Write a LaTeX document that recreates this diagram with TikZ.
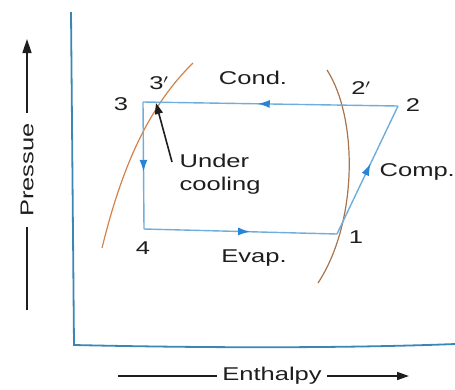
\documentclass[tikz,border=0pt]{standalone}
\usepackage{fontspec}
\setmainfont{Liberation Sans}
\usetikzlibrary{arrows.meta,decorations.markings,positioning}
\definecolor{axisBlue}{HTML}{3A86B4}
\definecolor{lineBlue}{HTML}{6EAEDC}
\definecolor{tipBlue}{HTML}{2A84D4}
\definecolor{curveOrange}{HTML}{D4824A}
\definecolor{curveBrown}{HTML}{A8744C}
\definecolor{textGray}{HTML}{1E1E1E}

\tikzset{
  lbl/.style={font=\fontsize{18.5}{23}\selectfont, text=textGray, inner sep=1pt},
  wide/.style={xscale=1.38},
  cycleline/.style={draw=lineBlue, line width=1.4pt, postaction={decorate},
    decoration={markings, mark=at position 0.55 with {\arrow[color=tipBlue]{Latex[length=12pt,width=8pt]}}}},
  satcurve/.style={line width=1.2pt},
  pointer/.style={line width=1.6pt, textGray, -{Triangle[length=11pt,width=8pt]}}
}

\begin{document}
\begin{tikzpicture}[x=1pt, y=-1pt]
    \useasboundingbox (0,0) rectangle (455,389);

    % axes
    \draw[axisBlue, line width=1.8pt] (71,12) -- (74,345) .. controls (250,349) and (380,347) .. (455,344);

    % cycle points
    \coordinate (p1) at (337,234);
    \coordinate (p2) at (398,106);
    \coordinate (p3) at (143,102);
    \coordinate (p4) at (144,229);
    \coordinate (p3s) at (156,103);

    % saturation curves
    \draw[satcurve, curveOrange] (102,248) .. controls (120,175) and (145,110) .. (193,63);
    \draw[satcurve, curveBrown] (327,70) .. controls (358,118) and (358,222) .. (318,283);

    % refrigeration cycle
    \draw[cycleline] (p1) -- (p2);
    \draw[cycleline] (p2) -- (p3);
    \draw[cycleline] (p3) -- (p4);
    \draw[cycleline] (p4) -- (p1);

    % point labels
    \node[lbl, wide] (n3) at (121,104) {3};
    \node[lbl, wide] (n3s) at (159,83) {3$'$};
    \node[lbl, wide] (n2s) at (361,88) {2$'$};
    \node[lbl, wide] (n2) at (413,105) {2};
    \node[lbl, wide] (n1) at (356,237) {1};
    \node[lbl, wide] (n4) at (143,248) {4};

    % process labels
    \node[lbl, wide] (cond) at (253,78) {Cond.};
    \node[lbl, wide] (evap) at (254,258) {Evap.};
    \node[lbl, wide, anchor=west] (comp) at (378,172) {Comp.};
    \node[lbl, wide, anchor=west, align=left] (under) at (178,174) {Under\\cooling};

    \coordinate (ptail) at (172,162);
    \draw[pointer] (ptail) -- (p3s);

    % axis titles
    \node[lbl, rotate=90, xscale=1.38, inner sep=7pt] (pres) at (27,170) {Pressue};
    \coordinate (presLow) at (27,310);
    \coordinate (presTop) at (27,39);
    \draw[line width=1.6pt, textGray] (presLow) -- (pres.west);
    \draw[line width=1.6pt, textGray, -{Triangle[length=14pt,width=9pt]}] (pres.east) -- (presTop);

    \node[lbl, wide, inner sep=4pt] (enth) at (272,376) {Enthalpy};
    \coordinate (enthLeft) at (118,376);
    \coordinate (enthRight) at (409,376);
    \draw[line width=1.6pt, textGray] (enthLeft) -- (enth.west);
    \draw[line width=1.6pt, textGray, -{Triangle[length=12pt,width=8pt]}] (enth.east) -- (enthRight);
\end{tikzpicture}
\end{document}
